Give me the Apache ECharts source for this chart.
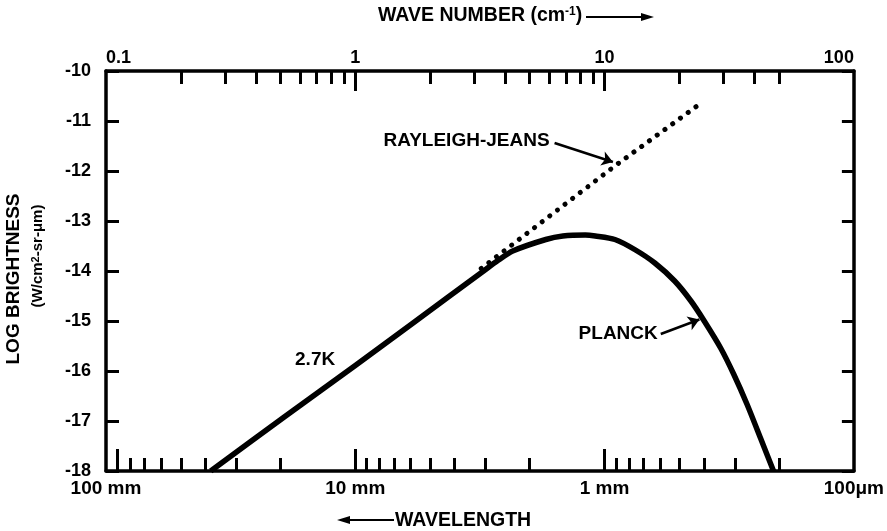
<!DOCTYPE html>
<html>
<head>
<meta charset="utf-8">
<title>2.7K Planck vs Rayleigh-Jeans</title>
<script src="https://cdn.jsdelivr.net/npm/echarts@6/dist/echarts.min.js"></script>
<style>
  html, body { margin: 0; padding: 0; background: #fff; }
  #chart { width: 887px; height: 531px; }
</style>
</head>
<body>
<div id="chart"></div>
<script>
// values: wave number (cm^-1) vs log brightness (W/cm2-sr-um)
const planckWaveNumber = [0.263, 0.522, 1.0, 1.716, 2.33, 3.25, 3.73, 4.28, 5.81, 6.8, 8.37, 9.18, 11.0, 13.2, 15.9, 19.1, 22.2, 25.1, 29.2, 33.0, 37.3, 42.2, 47.6]
const planckLogB = [-18.0, -16.91, -15.89, -15.03, -14.54, -14.01, -13.79, -13.6, -13.37, -13.3, -13.28, -13.3, -13.37, -13.57, -13.84, -14.2, -14.6, -15.0, -15.54, -16.07, -16.67, -17.34, -18.0]

const rjWaveNumber = [3.2, 11.2, 24.7]
const rjLogB = [-13.95, -11.87, -10.62]

// top axis (wave number)
const waveNumberLabels = [0.1, 1, 10, 100]
const waveNumberMajorTicks = [1, 10]
const waveNumberMinorTicks = [0.2, 0.3, 0.4, 0.5, 0.6, 0.7, 0.8, 0.9, 2, 3, 4, 5, 6, 7, 8, 9, 20, 30, 40, 50]

// bottom axis (wavelength, mm)
const wavelengthLabels = [100, 10, 1, 0.1]
const wavelengthLabelText = ['100 mm', '10 mm', '1 mm', '100μm']
const wavelengthMajorTicks = [90, 10, 1]
const wavelengthMinorTicks = [80, 70, 60, 50, 40, 30, 20, 9, 8, 7, 6, 5, 4, 3, 2, 0.9, 0.8, 0.7, 0.6, 0.5, 0.4, 0.3, 0.2]

const brightnessMin = -18
const brightnessMax = -10

const FONT = '"Liberation Sans", Arial, Helvetica, sans-serif'
const INK = '#000'

function xAxisBase(position, min, max, inverse) {
  return {
    type: 'log',
    logBase: 10,
    position: position,
    min: min,
    max: max,
    inverse: inverse,
    splitLine: { show: false },
    axisLine: { show: false, onZero: false },
    axisLabel: { show: false },
    axisTick: { show: false }
  }
}

const chart = echarts.init(document.getElementById('chart'))

const axisText = { color: INK, fontFamily: FONT, fontWeight: 'bold', fontSize: 18 }
const noteText = { color: INK, fontFamily: FONT, fontWeight: 'bold', fontSize: 19 }

chart.setOption({
  backgroundColor: '#fff',
  animation: false,
  grid: { left: 106, right: 26, top: 71, bottom: 60, containLabel: false },
  xAxis: [
    // wave number, minor ticks + labels + top frame line
    Object.assign(xAxisBase('top', 0.1, 100, false), {
      axisLine: { show: true, onZero: false, lineStyle: { color: INK, width: 3.5 } },
      axisTick: { show: true, inside: true, length: 13, customValues: waveNumberMinorTicks, lineStyle: { color: INK, width: 3 } },
      axisLabel: Object.assign({}, axisText, {
        show: true,
        margin: 4,
        customValues: waveNumberLabels,
        alignMinLabel: 'left',
        alignMaxLabel: 'right',
        formatter: v => String(+(+v).toPrecision(3))
      })
    }),
    // wave number, long ticks
    Object.assign(xAxisBase('top', 0.1, 100, false), {
      axisTick: { show: true, inside: true, length: 20, customValues: waveNumberMajorTicks, lineStyle: { color: INK, width: 3 } }
    }),
    // wavelength, minor ticks + labels + bottom frame line
    Object.assign(xAxisBase('bottom', 0.1, 100, true), {
      axisLine: { show: true, onZero: false, lineStyle: { color: INK, width: 3.5 } },
      axisTick: { show: true, inside: true, length: 13, customValues: wavelengthMinorTicks, lineStyle: { color: INK, width: 3 } },
      axisLabel: Object.assign({}, axisText, {
        show: true,
        fontSize: 19,
        margin: 8,
        customValues: wavelengthLabels,
        formatter: v => {
          const i = wavelengthLabels.findIndex(w => Math.abs(w - v) / w < 1e-6)
          return i >= 0 ? wavelengthLabelText[i] : ''
        }
      })
    }),
    // wavelength, long ticks
    Object.assign(xAxisBase('bottom', 0.1, 100, true), {
      axisTick: { show: true, inside: true, length: 22, customValues: wavelengthMajorTicks, lineStyle: { color: INK, width: 3 } }
    })
  ],
  yAxis: [
    {
      type: 'value',
      position: 'left',
      min: brightnessMin,
      max: brightnessMax,
      interval: 1,
      splitLine: { show: false },
      axisLine: { show: true, onZero: false, lineStyle: { color: INK, width: 3.5 } },
      axisTick: { show: true, inside: true, length: 13, lineStyle: { color: INK, width: 3 } },
      axisLabel: Object.assign({}, axisText, { margin: 15 })
    },
    {
      type: 'value',
      position: 'right',
      min: brightnessMin,
      max: brightnessMax,
      interval: 1,
      splitLine: { show: false },
      axisLine: { show: true, onZero: false, lineStyle: { color: INK, width: 3.5 } },
      axisTick: { show: true, inside: true, length: 12, lineStyle: { color: INK, width: 3 } },
      axisLabel: { show: false }
    }
  ],
  series: [
    {
      name: 'Rayleigh-Jeans',
      type: 'line',
      xAxisIndex: 0,
      yAxisIndex: 0,
      showSymbol: false,
      silent: true,
      data: rjWaveNumber.map((w, i) => [w, rjLogB[i]]),
      lineStyle: { color: INK, width: 5, type: [0.1, 9.5], cap: 'round' },
      markLine: {
        silent: true,
        symbol: ['none', 'arrow'],
        symbolSize: 11,
        label: { show: false },
        lineStyle: { color: INK, width: 2.5, type: 'solid' },
        data: [[{ coord: [6.3, -11.44] }, { coord: [10.8, -11.82] }]]
      },
      markPoint: {
        silent: true,
        symbolSize: 0,
        label: Object.assign({ show: true, position: 'left', distance: 5, formatter: 'RAYLEIGH-JEANS' }, noteText),
        data: [{ coord: [6.3, -11.4] }]
      }
    },
    {
      name: 'Planck',
      type: 'line',
      xAxisIndex: 0,
      yAxisIndex: 0,
      showSymbol: false,
      silent: true,
      smooth: 0.25,
      data: planckWaveNumber.map((w, i) => [w, planckLogB[i]]),
      lineStyle: { color: INK, width: 5.5, join: 'round' },
      markLine: {
        silent: true,
        symbol: ['none', 'arrow'],
        symbolSize: 11,
        label: { show: false },
        lineStyle: { color: INK, width: 2.5, type: 'solid' },
        data: [[{ coord: [16.8, -15.26] }, { coord: [24.0, -14.97] }]]
      },
      markPoint: {
        silent: true,
        symbolSize: 0,
        label: Object.assign({ show: true }, noteText),
        data: [
          { coord: [16.8, -15.26], label: { position: 'left', distance: 3, formatter: 'PLANCK' } },
          { coord: [0.69, -15.78], label: { position: 'inside', formatter: '2.7K' } }
        ]
      }
    }
  ],
  graphic: [
    {
      type: 'text',
      left: 378,
      top: 6,
      style: {
        text: 'WAVE NUMBER (cm{sup|-1})',
        fill: INK,
        font: 'bold 19.5px ' + FONT,
        rich: { sup: { fontSize: 12, fontWeight: 'bold', fontFamily: FONT, verticalAlign: 'top', fill: INK } }
      }
    },
    { type: 'line', shape: { x1: 586, y1: 17, x2: 645, y2: 17 }, style: { stroke: INK, lineWidth: 2 } },
    { type: 'polygon', shape: { points: [[654, 17], [641, 13], [641, 21]] }, style: { fill: INK } },
    {
      type: 'text',
      left: 395,
      top: 511,
      style: { text: 'WAVELENGTH', fill: INK, font: 'bold 19.5px ' + FONT }
    },
    { type: 'line', shape: { x1: 346, y1: 520, x2: 394, y2: 520 }, style: { stroke: INK, lineWidth: 2 } },
    { type: 'polygon', shape: { points: [[337, 520], [350, 516], [350, 524]] }, style: { fill: INK } },
    {
      type: 'text',
      x: 14,
      y: 279,
      rotation: Math.PI / 2,
      style: { text: 'LOG BRIGHTNESS', fill: INK, font: 'bold 19px ' + FONT, align: 'center', verticalAlign: 'middle' }
    },
    {
      type: 'text',
      x: 38,
      y: 256,
      rotation: Math.PI / 2,
      style: {
        text: '(W/cm{sup|2}-sr-μm)',
        fill: INK,
        font: 'bold 15px ' + FONT,
        align: 'center',
        verticalAlign: 'middle',
        rich: { sup: { fontSize: 11, fontWeight: 'bold', fontFamily: FONT, verticalAlign: 'top', fill: INK } }
      }
    }
  ]
})
</script>
</body>
</html>
